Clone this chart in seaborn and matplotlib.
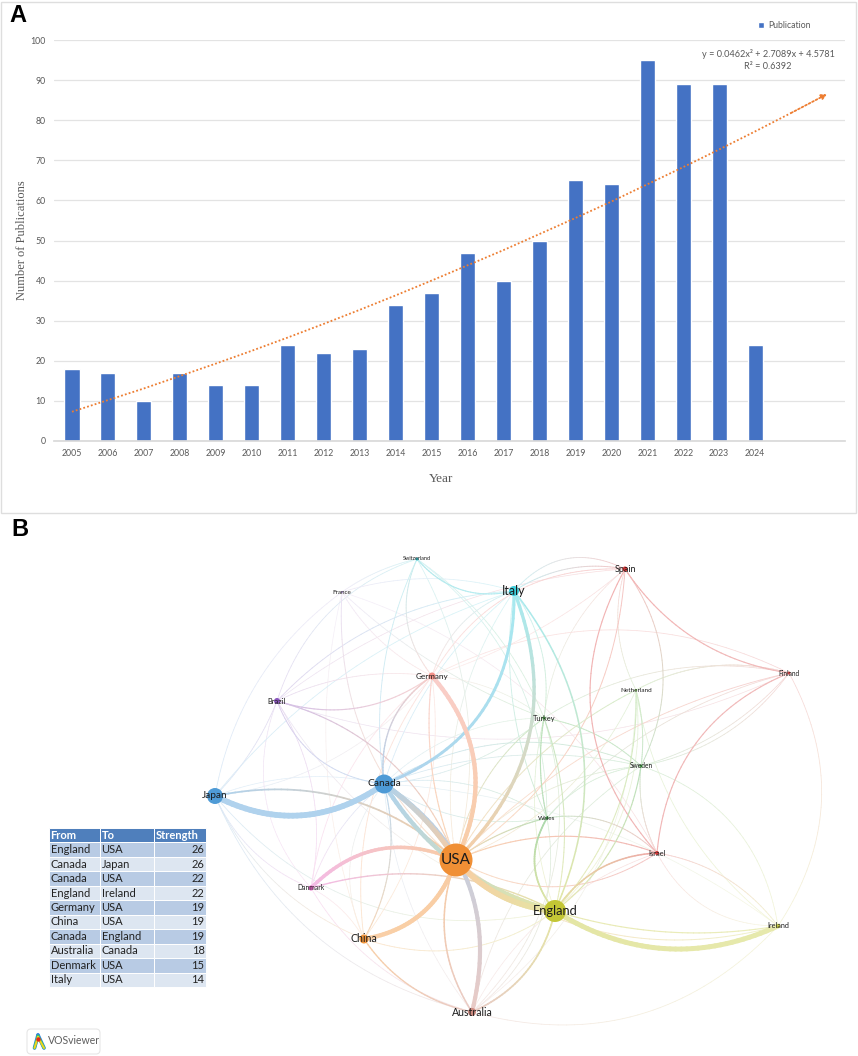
import numpy as np
import pandas as pd
import matplotlib
matplotlib.use('Agg')
import matplotlib.pyplot as plt
import seaborn as sns
from matplotlib.collections import LineCollection
from matplotlib.colors import to_rgb
from matplotlib.patches import FancyBboxPatch, Rectangle

# panel A
years = [2005, 2006, 2007, 2008, 2009, 2010, 2011, 2012, 2013, 2014,
         2015, 2016, 2017, 2018, 2019, 2020, 2021, 2022, 2023, 2024]
publications = [18, 17, 10, 17, 14, 14, 24, 22, 23, 34,
                37, 47, 40, 50, 65, 64, 95, 89, 89, 24]
trend_years = [2005, 2006, 2007, 2008, 2009, 2010, 2011, 2012, 2013, 2014, 2015,
               2016, 2017, 2018, 2019, 2020, 2021, 2022, 2023, 2024, 2025, 2026]
trend_values = [7.3, 10.2, 13.1, 16.2, 19.3, 22.5, 25.8, 29.2, 32.7, 36.3, 40.0,
                43.8, 47.6, 51.6, 55.6, 59.7, 64.0, 68.3, 72.7, 77.2, 81.8, 86.5]

# panel B table
table_from = ['England', 'Canada', 'Canada', 'England', 'Germany',
              'China', 'Canada', 'Australia', 'Denmark', 'Italy']
table_to = ['USA', 'Japan', 'USA', 'Ireland', 'USA',
            'USA', 'England', 'Canada', 'USA', 'USA']
table_strength = [26, 26, 22, 22, 19, 19, 19, 18, 15, 14]

# panel B network, nodes read in image pixels
node_names = ['USA', 'England', 'Canada', 'Japan', 'Italy', 'China', 'Germany',
              'Brazil', 'France', 'Switzerland', 'Spain', 'Finland', 'Netherland',
              'Turkey', 'Sweden', 'Wales', 'Israel', 'Ireland', 'Danmark', 'Australia']
node_x = [456, 555, 384, 215, 514, 364, 432, 277, 342, 417, 625, 789, 636, 544, 641, 547, 657, 778, 311, 472]
node_y = [860, 911, 784, 796, 591, 939, 676, 701, 592, 559, 569, 673, 690, 718, 766, 818, 853, 926, 888, 1012]
node_radius = [16.5, 11, 9.5, 8, 5, 4.5, 3.5, 3, 1, 1.5, 2.5, 1.5, 1, 1.5, 1.5, 1.5, 2, 2, 2.5, 4]
node_colors = ['#f08f35', '#c3c635', '#4d9ad6', '#4f9bd6', '#3ccfdc', '#f2963c', '#f29088',
               '#8a56bd', '#b79adb', '#35c4cc', '#dd3535', '#d84545', '#70c04c',
               '#4fb348', '#45aa4a', '#45aa4a', '#d83a3a', '#c9cf48', '#e566c6', '#cd8a80']
label_size = [11, 9.3, 7.4, 7.2, 9, 7.7, 5.9, 5.4, 4.5, 4, 6.5, 4.8, 4.6, 5.3, 4.8, 4.6, 5.4, 5.2, 4.9, 7.6]

link_from = ['England', 'Canada', 'Canada', 'England', 'Germany', 'China', 'Canada', 'Australia',
             'Danmark', 'Italy', 'Italy', 'Japan', 'England', 'Italy', 'Wales', 'Spain',
             'Spain', 'Spain', 'Spain', 'Finland', 'Spain', 'Spain', 'Finland', 'Finland',
             'Finland', 'England', 'USA', 'Israel', 'Australia', 'England', 'China', 'USA',
             'Danmark', 'Japan', 'Switzerland', 'Switzerland', 'Switzerland', 'Switzerland', 'Italy', 'France',
             'Brazil', 'Brazil', 'Brazil', 'Japan', 'Brazil', 'Canada', 'Germany', 'Germany',
             'Canada', 'China', 'Danmark', 'Danmark', 'Netherland', 'Sweden', 'Sweden', 'Sweden',
             'Netherland', 'Netherland', 'Turkey', 'Turkey', 'Turkey', 'Wales', 'Wales', 'Israel',
             'Ireland', 'Finland', 'France', 'France', 'Japan', 'Japan', 'Japan', 'Brazil',
             'Italy', 'Italy', 'Italy', 'Switzerland', 'Germany', 'Germany', 'Netherland', 'Sweden',
             'Ireland', 'Ireland', 'Australia', 'Australia', 'Australia', 'China', 'Danmark', 'Danmark',
             'France', 'Turkey', 'Sweden', 'Wales', 'Israel', 'Finland', 'Finland', 'Spain',
             'Germany', 'Italy', 'Italy', 'Switzerland', 'Switzerland', 'France', 'France', 'Japan',
             'Japan', 'Brazil', 'Brazil', 'Canada', 'Canada', 'Canada', 'China', 'China',
             'Australia', 'Australia', 'Australia', 'England', 'England', 'Ireland', 'Ireland', 'Sweden',
             'Netherland', 'Spain', 'Spain', 'Spain', 'Finland', 'Turkey', 'Wales', 'Germany']
link_to = ['USA', 'Japan', 'USA', 'Ireland', 'USA', 'USA', 'England', 'Canada',
           'USA', 'USA', 'Canada', 'USA', 'Ireland', 'England', 'England', 'Israel',
           'Sweden', 'USA', 'Finland', 'Israel', 'Italy', 'Italy', 'USA', 'Germany',
           'Ireland', 'Israel', 'Israel', 'Ireland', 'Ireland', 'Australia', 'Australia', 'Australia',
           'England', 'Australia', 'Italy', 'Canada', 'Germany', 'France', 'Brazil', 'USA',
           'Germany', 'USA', 'Canada', 'France', 'Switzerland', 'Germany', 'Italy', 'China',
           'China', 'England', 'Australia', 'Canada', 'England', 'England', 'Turkey', 'Canada',
           'Sweden', 'USA', 'Wales', 'England', 'USA', 'USA', 'Israel', 'USA',
           'USA', 'Sweden', 'Germany', 'Turkey', 'England', 'China', 'Danmark', 'Japan',
           'Turkey', 'Wales', 'Japan', 'USA', 'Spain', 'Brazil', 'Finland', 'Finland',
           'Sweden', 'Netherland', 'Turkey', 'Wales', 'Sweden', 'Germany', 'Brazil', 'Germany',
           'Italy', 'Finland', 'Israel', 'Sweden', 'Sweden', 'Wales', 'Netherland', 'Netherland',
           'USA', 'USA', 'Canada', 'Turkey', 'Wales', 'Israel', 'China', 'Canada',
           'Germany', 'England', 'Danmark', 'Turkey', 'Wales', 'Sweden', 'Danmark', 'Canada',
           'Israel', 'Netherland', 'Canada', 'Turkey', 'Netherland', 'Canada', 'Israel', 'USA',
           'USA', 'Germany', 'Brazil', 'Turkey', 'Brazil', 'Canada', 'Canada', 'Turkey']
link_strength = [26, 26, 22, 22, 19, 19, 19, 18,
                 15, 14, 12, 6, 3, 5, 6, 3,
                 2, 2, 3, 3, 2, 1.5, 1.5, 1,
                 1, 5, 3, 1.5, 1, 6, 4, 5,
                 4, 1, 3, 1.5, 2, 1, 1.5, 2,
                 3, 3, 2, 1, 1, 4, 1.5, 1.5,
                 3, 1.5, 1, 1, 2.5, 3, 2, 1.5,
                 2, 2, 3, 2.5, 2, 3, 2, 2,
                 2, 1, 1, 1, 1, 1, 1, 1,
                 1.5, 1.5, 1, 1, 1.5, 1, 1, 1,
                 1, 1, 1, 1, 1, 1, 1, 1,
                 1, 1, 1, 1, 1, 1, 1, 1,
                 3, 1, 1, 1, 1, 0.5, 0.5, 0.5,
                 0.5, 0.5, 0.5, 1, 1, 1, 0.5, 0.5,
                 0.5, 0.5, 0.5, 1, 1, 0.5, 0.5, 1,
                 1, 0.5, 0.5, 0.5, 0.5, 0.5, 1, 0.5]
link_bend = [-0.2, -0.3, -0.1, 0.27, -0.33, 0.3, 0.2, 0.35,
             -0.34, -0.33, -0.35, -0.25, 0.12, -0.3, 0.35, 0.35,
             -0.3, -0.25, 0.22, 0.3, 0.2, 0.38, 0.15, 0.25,
             -0.3, -0.25, -0.2, -0.2, 0.3, -0.25, 0.2, 0.25,
             -0.2, 0.25, 0.3, 0.15, 0.3, 0.1, 0.2, 0.25,
             0.25, -0.25, 0.3, -0.2, -0.25, -0.3, -0.25, 0.2,
             -0.2, 0.25, 0.2, -0.15, -0.2, -0.2, 0.15, 0.25,
             -0.1, 0.15, 0.1, -0.15, 0.2, 0.1, -0.25, -0.3,
             -0.25, -0.15, 0.15, 0.1, 0.3, 0.2, 0.2, -0.1,
             -0.2, 0.15, 0.15, -0.2, -0.3, 0.15, -0.2, 0.2,
             0.3, -0.2, 0.3, 0.3, -0.2, 0.2, 0.2, -0.2,
             -0.15, -0.2, 0.15, -0.2, -0.15, 0.15, 0.2, 0.2,
             0.13, 0.2, 0.15, -0.15, -0.25, -0.2, 0.15, -0.15,
             0.2, 0.2, 0.3, 0.15, -0.2, -0.15, 0.15, -0.3,
             -0.2, 0.25, -0.15, -0.15, 0.25, 0.15, -0.3, 0.2,
             -0.2, -0.1, 0.15, 0.2, -0.2, 0.2, -0.2, -0.15]

PANEL_FONT = 'Liberation Sans'
CHART_FONT = 'Lato'


def draw_link(ax, p0, p1, c0, c1, strength, bend):
    """ Quadratic curve between two nodes, colour fading from source to target """
    p0, p1 = np.array(p0, float), np.array(p1, float)
    d = p1 - p0
    ctrl = (p0 + p1) / 2 + bend * np.array([-d[1], d[0]])
    t = np.linspace(0, 1, 41)[:, None]
    pts = (1 - t) ** 2 * p0 + 2 * t * (1 - t) * ctrl + t ** 2 * p1
    segs = np.stack([pts[:-1], pts[1:]], axis=1)
    mix = t[:-1]
    cols = (1 - mix) * np.array(to_rgb(c0)) + mix * np.array(to_rgb(c1))
    # opaque and washed out, so the short pieces do not show as beads
    fade = min(0.45, 0.13 + 0.08 * strength)
    cols = fade * cols + (1 - fade)
    width = (0.55 + 0.2 * strength) * 0.72
    ax.add_collection(LineCollection(segs, colors=cols, linewidths=width,
                                     capstyle='round', zorder=2))


sns.set_theme(style='white')
fig = plt.figure(figsize=(8.58, 10.56), dpi=100)

# whole-figure layer in image pixels, for the network
net = fig.add_axes([0, 0, 1, 1])
net.set_axis_off()

net_df = pd.DataFrame({'x': node_x, 'y': node_y, 'name': node_names})
pos = dict(zip(node_names, zip(node_x, node_y)))
col = dict(zip(node_names, node_colors))
order = np.argsort(link_strength, kind='stable')
for i in order:
    draw_link(net, pos[link_from[i]], pos[link_to[i]], col[link_from[i]], col[link_to[i]],
              link_strength[i], link_bend[i])

sns.scatterplot(data=net_df, x='x', y='y', hue='name', palette=col, size='name',
                sizes={n: (2 * r * 0.72) ** 2 for n, r in zip(node_names, node_radius)},
                linewidth=0, legend=False, zorder=3, ax=net)
net.set_xlim(0, 858)
net.set_ylim(1056, 0)
net.set_xlabel('')
net.set_ylabel('')
for name, x, y, fs in zip(node_names, node_x, node_y, label_size):
    net.text(x, y, name, fontsize=fs, family=CHART_FONT, color='#1c1c1c',
             ha='center', va='center', zorder=4)

net.add_patch(Rectangle((1, 2), 855, 511, fill=False, ec='#dedede', lw=1))
net.text(9, 16, 'A', fontsize=17, fontweight='bold', family=PANEL_FONT, color='black',
         ha='left', va='center')
net.text(11, 530, 'B', fontsize=17, fontweight='bold', family=PANEL_FONT, color='black',
         ha='left', va='center')

# VOSviewer badge
net.add_patch(FancyBboxPatch((27, 1029), 73, 25, boxstyle='round,pad=0,rounding_size=4',
                             fc='white', ec='#e6e6e6', lw=0.8))
for c, lw, y_top in [('#2f7fe0', 2.6, 1035), ('#38c96a', 2.0, 1036), ('#f2d21f', 1.4, 1037)]:
    net.plot([38, 34.5], [y_top, 1048], color=c, lw=lw, solid_capstyle='round', zorder=3)
    net.plot([38, 44], [y_top, 1048], color=c, lw=lw, solid_capstyle='round', zorder=3)
net.plot([38], [1039], 'o', color='#e02a1c', ms=2.2, zorder=4)
net.text(48, 1041, 'VOSviewer', fontsize=7.6, family=CHART_FONT, color='#5e5e5e',
         ha='left', va='center')

# panel A
ax = fig.add_axes([54 / 858, 1 - 441 / 1056, (845 - 54) / 858, 401 / 1056])
ax.patch.set_alpha(0)
pub_df = pd.DataFrame({'year': years, 'count': publications})
sns.barplot(data=pub_df, x='year', y='count', native_scale=True, color='#4472c4',
            width=0.42, saturation=1, label='Publication', ax=ax)
sns.lineplot(x=trend_years[:-1], y=trend_values[:-1], color='#ed7d31', lw=1.3,
             linestyle=(0, (1, 1.2)), ax=ax)
ax.annotate('', xy=(trend_years[-1], trend_values[-1]), xytext=(trend_years[-2], trend_values[-2]),
            arrowprops=dict(arrowstyle='-|>', color='#ed7d31', lw=1.3, ls=(0, (1, 1.2)),
                            mutation_scale=8, shrinkA=0, shrinkB=0))
ax.set_xlim(2005 - 0.5, 2005 + 21.5)
ax.set_ylim(0, 100)
ax.set_xticks(years)
ax.set_xticklabels(years, fontsize=6.3, family=CHART_FONT, color='#595959')
ax.set_yticks(range(0, 101, 10))
ax.set_yticklabels(range(0, 101, 10), fontsize=6.3, family=CHART_FONT, color='#595959')
ax.grid(axis='y', color='#e3e3e3', lw=0.9)
ax.set_axisbelow(True)
ax.tick_params(axis='x', length=0, pad=6)
ax.tick_params(axis='y', length=0, pad=6)
sns.despine(ax=ax, left=True)
ax.spines['bottom'].set_color('#d9d9d9')
ax.set_xlabel('Year', fontsize=9.5, family='Liberation Serif', color='#595959', labelpad=8)
ax.xaxis.set_label_coords((441 - 54) / 791, -32 / 401)
ax.set_ylabel('Number of Publications', fontsize=9, family='Liberation Serif', color='#595959')
ax.yaxis.set_label_coords((28 - 54) / 791, 0.5)
ax.legend(loc='center left', bbox_to_anchor=((754 - 54) / 791, 1.035), frameon=False,
          prop={'family': CHART_FONT, 'size': 6.2}, labelcolor='#595959',
          handlelength=0.7, handleheight=0.7, handletextpad=0.4, borderpad=0)
net.text(768, 60, 'y = 0.0462x² + 2.7089x + 4.5781\nR² = 0.6392', fontsize=6.6,
         family=CHART_FONT, color='#595959', ha='center', va='center', linespacing=1.3)

# table
tab = fig.add_axes([49 / 858, 1 - 987 / 1056, 157 / 858, 159 / 1056])
tab.set_axis_off()
cells = [[f, t, str(s)] for f, t, s in zip(table_from, table_to, table_strength)]
table = tab.table(cellText=cells, colLabels=['From', 'To', 'Strength'],
                  colWidths=[51 / 157, 54 / 157, 52 / 157], bbox=[0, 0, 1, 1])
table.auto_set_font_size(False)
for (r, c), cell in table.get_celld().items():
    cell.set_edgecolor('white')
    cell.set_linewidth(0.7)
    cell.PAD = 0.03
    txt = cell.get_text()
    txt.set_fontfamily(CHART_FONT)
    txt.set_fontsize(8)
    txt.set_ha('right' if (c == 2 and r > 0) else 'left')
    if c == 2 and r > 0:
        txt.set_x(1)
    if r == 0:
        cell.set_facecolor('#4f7fbc')
        txt.set_color('white')
        txt.set_fontweight('bold')
    else:
        cell.set_facecolor('#b8cbe4' if r % 2 else '#dde6f1')
        txt.set_color('#222222')

fig.savefig('out.png', dpi=100)
